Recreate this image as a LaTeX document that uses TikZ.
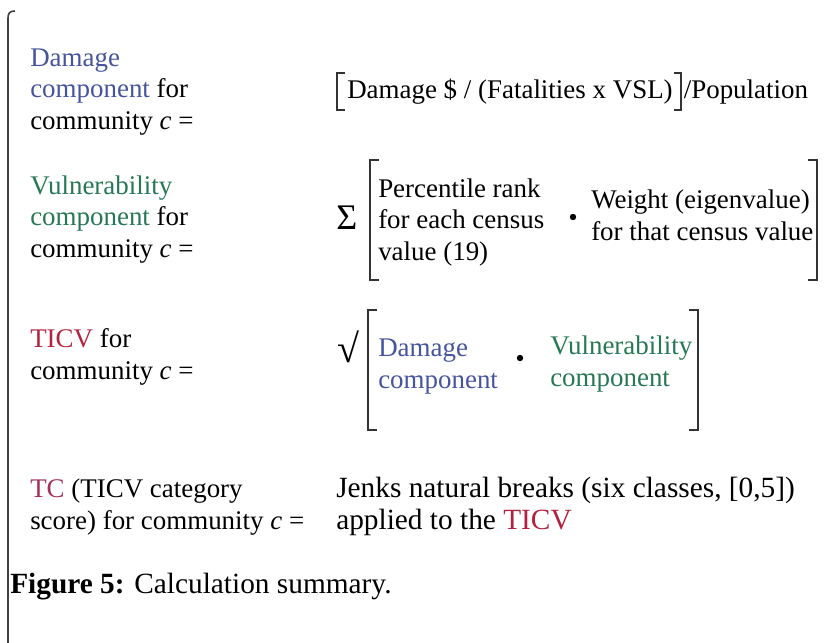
\documentclass[tikz,border=0pt]{standalone}
\usepackage{fontspec}
\setmainfont{Liberation Serif}
\usetikzlibrary{positioning}
\definecolor{dmgblue}{RGB}{70,84,158}
\definecolor{vulgreen}{RGB}{38,120,86}
\definecolor{ticvred}{RGB}{178,34,62}
\definecolor{tcred}{RGB}{166,46,90}

\tikzset{
  lbl/.style={anchor=base west, align=left, inner sep=0pt,
    font=\fontsize{20.2}{23.5}\selectfont},
  brk/.style={line width=1.5pt, black!80},
  dot/.style={circle, fill=black, inner sep=0pt, minimum size=4.8pt},
}

\begin{document}
\begin{tikzpicture}[x=0.75pt,y=-0.75pt]
  \useasboundingbox (0,0) rectangle (836,643);
  % frame line on the left
  \draw[line width=1.2pt, black!75] (15,11) .. controls (10,11) and (8,13) .. (8,18) -- (8,643);

  % left column (base = last line)
  \node[lbl] (dmglbl) at (30,129) {\textcolor{dmgblue}{Damage}\\\textcolor{dmgblue}{component} for\\community \textit{c} =};
  \node[lbl] (vullbl) at (30,257) {\textcolor{vulgreen}{Vulnerability}\\\textcolor{vulgreen}{component} for\\community \textit{c} =};
  \node[lbl] (ticvlbl) at (30,379) {\textcolor{ticvred}{TICV} for\\community \textit{c} =};
  \node[lbl] (tclbl) at (30,529) {\textcolor{tcred}{TC} (TICV category\\score) for community \textit{c} =};

  % damage component
  \node[lbl] (dmgexpr) at (347,98) {Damage \$ / (Fatalities x VSL)};
  \node[lbl] (popn) at ([xshift=8pt]dmgexpr.base east) {/Population};
  \draw[brk] (345,73) -- (337,73) -- (337,110) -- (345,110);
  \draw[brk] ([xshift=1pt]dmgexpr.east |- 0,73) -- ([xshift=6pt]dmgexpr.east |- 0,73)
    -- ([xshift=6pt]dmgexpr.east |- 0,110) -- ([xshift=1pt]dmgexpr.east |- 0,110);

  % vulnerability component
  \node[lbl, font=\fontsize{27}{27}\selectfont] (sigma) at (336,229) {Σ};
  \draw[brk] (379,160) -- (370,160) -- (370,280) -- (379,280);
  \node[lbl] (pctl) at (378,260) {Percentile rank\\for each census\\value (19)};
  \node[dot] (vdot) at (573,217) {};
  \node[lbl] (weight) at (591,240) {Weight (eigenvalue)\\for that census value};
  \draw[brk] (808,160) -- (817,160) -- (817,280) -- (808,280);

  % TICV
  \node[lbl, font=\fontsize{30}{30}\selectfont] (sqrt) at (337,362) {√};
  \draw[brk] (377,310) -- (368,310) -- (368,430) -- (377,430);
  \node[lbl, text=dmgblue] (dmgcomp) at (378,388) {Damage\\component};
  \node[dot] (tdot) at (520,358) {};
  \node[lbl, text=vulgreen] (vulcomp) at (550,386) {Vulnerability\\component};
  \draw[brk] (689,310) -- (698,310) -- (698,430) -- (689,430);

  % TC
  \node[lbl, font=\fontsize{22}{23.5}\selectfont] (jenks) at (336,529) {Jenks natural breaks (six classes, [0,5])\\applied to the \textcolor{ticvred}{TICV}};

  % caption
  \node[lbl, font=\fontsize{22}{25}\selectfont] (caption) at (10,593) {\textbf{Figure 5:} Calculation summary.};
\end{tikzpicture}
\end{document}
